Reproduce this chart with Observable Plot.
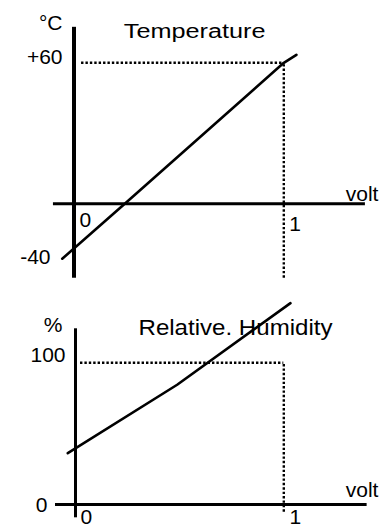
<!DOCTYPE html>
<html>
<head>
<meta charset="utf-8">
<script src="https://cdn.jsdelivr.net/npm/d3@7"></script>
<script src="https://cdn.jsdelivr.net/npm/@observablehq/plot@0.6"></script>
<style>
  html, body { margin: 0; padding: 0; background: #fff; overflow: hidden; }
  svg { display: block; }
</style>
</head>
<body>
<div id="chart"></div>
<script>
// ---- data ----
const tempVolt = [-0.056, 0.242, 1, 1.06];
const tempC = [-41.7, 0, 60, 63.4];
const humVolt = [-0.037, 0.488, 1.032];
const humPct = [36.2, 84.5, 142.1];

const tempTickValues = [-40, 60];
const tempTickLabels = ["-40", "+60"];
const humTickValues = [0, 100];
const humTickLabels = ["0", "100"];
const voltTickValues = [0, 1];
const voltTickLabels = ["0", "1"];

const tempAxisExtent = [-56.5, 75.1];
const tempVoltExtent = [-0.098, 1.389];
const humAxisExtent = [-9.4, 124];
const humVoltExtent = [-0.096, 1.4];
const tempRef = {volt: 1, value: 60, from: 0.036};
const humRef = {volt: 1, value: 100, from: 0.024, bottom: -5.4};

const titles = {temp: "Temperature", hum: "Relative. Humidity"};
const units = {temp: "°C", hum: "%", volt: "volt"};

const font = "Liberation Sans, Arial, sans-serif";
const fs = 21;
const dash = "2.4,2";
// the drawing compresses the sub-zero part of the temperature axis
const belowZeroFactor = 0.5606;

function lbl(text, x, y, dx, dy, anchor, cls, size = fs) {
  return Plot.text([text], {x: () => x, y: () => y, text: d => d, dx, dy,
    textAnchor: anchor, fontSize: size, fontFamily: font, fill: "black", className: cls});
}

const tempRows = tempVolt.map((v, i) => ({v, t: tempC[i]}));
const humRows = humVolt.map((v, i) => ({v, h: humPct[i]}));

const topChart = Plot.plot({
  width: 390, height: 278,
  margin: 0,
  x: {domain: [0, 1], range: [73.5, 283.3], axis: null},
  y: {domain: [0, 60], range: [203.3, 62.3], axis: null,
      transform: t => (t < 0 ? t * belowZeroFactor : t)},
  marks: [
    Plot.ruleY([tempRef.value], {x1: tempRef.from, x2: tempRef.volt, stroke: "black", strokeWidth: 2.4, strokeDasharray: dash}),
    Plot.ruleX([tempRef.volt], {y1: tempAxisExtent[0], y2: tempRef.value, stroke: "black", strokeWidth: 2.4, strokeDasharray: dash}),
    Plot.ruleX([0], {y1: tempAxisExtent[0], y2: tempAxisExtent[1], stroke: "black", strokeWidth: 4}),
    Plot.ruleY([0], {x1: tempVoltExtent[0], x2: tempVoltExtent[1], stroke: "black", strokeWidth: 3}),
    Plot.line(tempRows, {x: "v", y: "t", stroke: "black", strokeWidth: 2.6}),
    lbl(units.temp, 0, tempAxisExtent[1], -11.5, -4.4, "end"),
    lbl(titles.temp, 0, tempAxisExtent[1], 49.8, 4.6, "start", "ttl-temp", 20),
    lbl(tempTickLabels[0], 0, tempTickValues[0], -23.5, 0.3, "end"),
    lbl(tempTickLabels[1], 0, tempTickValues[1], -11.5, -6, "end"),
    lbl(voltTickLabels[0], voltTickValues[0], 0, 5.5, 16.7, "start"),
    lbl(voltTickLabels[1], voltTickValues[1], 0, 5.4, 20, "start"),
    lbl(units.volt, tempVoltExtent[1], 0, 13, -10, "end")
  ]
});

const bottomChart = Plot.plot({
  width: 390, height: 262,
  margin: 0,
  x: {domain: [0, 1], range: [75, 283.3], axis: null},
  y: {domain: [0, 100], range: [226, 84.3], axis: null},
  marks: [
    Plot.ruleY([humRef.value], {x1: humRef.from, x2: humRef.volt, stroke: "black", strokeWidth: 2.4, strokeDasharray: dash}),
    Plot.ruleX([humRef.volt], {y1: humRef.bottom, y2: humRef.value, stroke: "black", strokeWidth: 2.4, strokeDasharray: dash}),
    Plot.ruleX([0], {y1: humAxisExtent[0], y2: humAxisExtent[1], stroke: "black", strokeWidth: 3}),
    Plot.ruleY([0], {x1: humVoltExtent[0], x2: humVoltExtent[1], stroke: "black", strokeWidth: 3}),
    Plot.line(humRows, {x: "v", y: "h", stroke: "black", strokeWidth: 2.6}),
    lbl(units.hum, 0, humAxisExtent[1], -13, -3.3, "end"),
    lbl(titles.hum, 0, humAxisExtent[1], 63, -1, "start", "ttl-hum", 21.5),
    lbl(humTickLabels[1], 0, humTickValues[1], -10, -7.3, "end"),
    lbl(humTickLabels[0], 0, humTickValues[0], -28, 1, "end"),
    lbl(voltTickLabels[0], voltTickValues[0], 0, 5, 12.5, "start"),
    lbl(voltTickLabels[1], voltTickValues[1], 0, 5.7, 13, "start"),
    lbl(units.volt, humVoltExtent[1], 0, 11.3, -14, "end")
  ]
});

for (const [svg, sel, len] of [[topChart, ".ttl-temp text", 141.7], [bottomChart, ".ttl-hum text", 194]]) {
  svg.querySelectorAll(sel).forEach(t => {
    t.setAttribute("textLength", len);
    t.setAttribute("lengthAdjust", "spacingAndGlyphs");
  });
}
const el = document.getElementById("chart");
el.appendChild(topChart);
el.appendChild(bottomChart);
</script>
</body>
</html>
